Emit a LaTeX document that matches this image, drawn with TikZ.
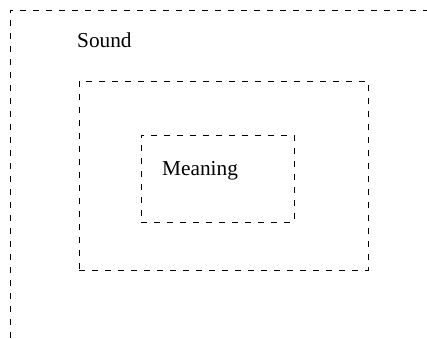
\documentclass[tikz,border=0pt]{standalone}
\usepackage{fontspec}
\setmainfont{Liberation Serif}
\usepackage{tikz}
\usetikzlibrary{positioning}

\begin{document}
\begin{tikzpicture}[
        x=1pt, y=-1pt,
        frame/.style={
            draw,
            line width=0.8pt,
            dash pattern=on 6pt off 7pt
        },
        box/.style={
            frame,
            rectangle,
            inner sep=0pt
        },
        label/.style={
            anchor=base west,
            inner sep=0pt,
            font=\fontsize{21.3}{25}\selectfont
        }
    ]

    \useasboundingbox (0,0) rectangle (427,338);

    % Outer frame
    \coordinate (sw) at (10,338);
    \coordinate (nw) at (10,10);
    \coordinate (ne) at (427,10);
    \draw[frame] (sw) -- (nw) -- (ne);

    % Boxes
    \node[box, minimum width=289pt, minimum height=189pt] (middle) at (223.5,175.5) {};
    \node[box, minimum width=153pt, minimum height=87pt] (inner) at (217.5,178.5) {};

    % Labels
    \node[label] (sound) at (77,47) {Sound};
    \node[label] (meaning) at (162,175) {Meaning};

\end{tikzpicture}
\end{document}
